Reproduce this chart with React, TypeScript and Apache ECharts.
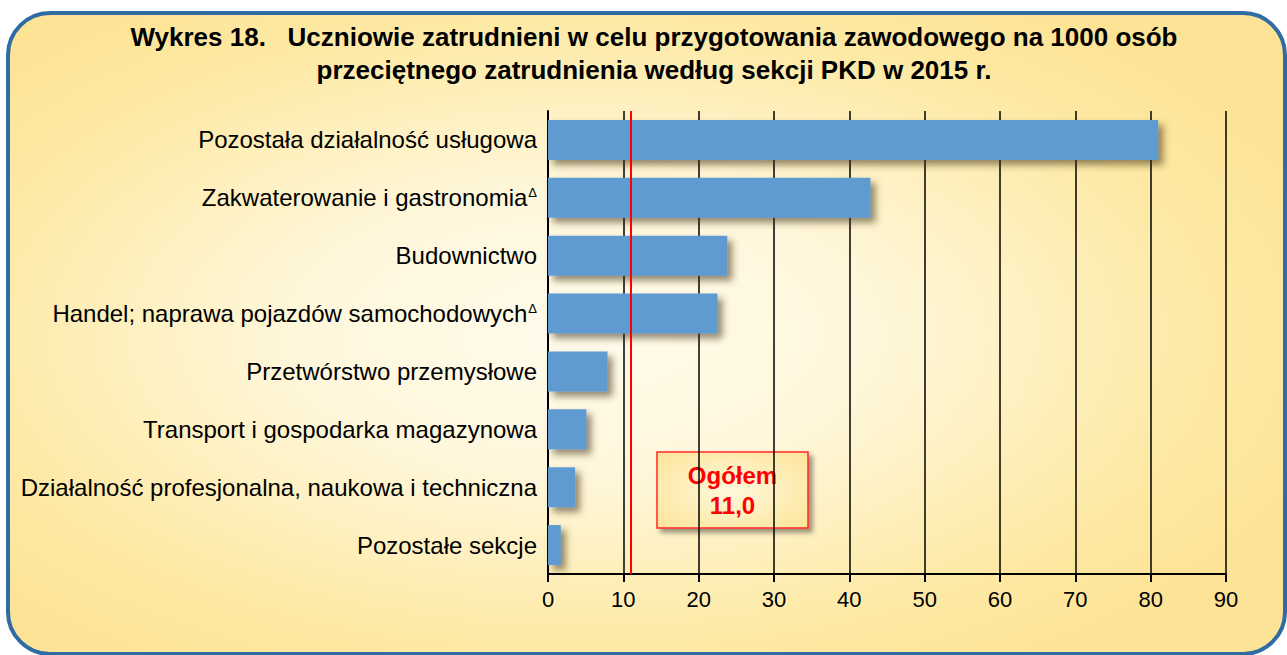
import React, { useEffect, useRef } from "react";
import * as echarts from "echarts";

const categories = [
  "Pozostała działalność usługowa",
  "Zakwaterowanie i gastronomia",
  "Budownictwo",
  "Handel; naprawa pojazdów samochodowych",
  "Przetwórstwo przemysłowe",
  "Transport i gospodarka magazynowa",
  "Działalność profesjonalna, naukowa i techniczna",
  "Pozostałe sekcje",
];
const marked = [false, true, false, true, false, false, false, false];
const values = [81.0, 42.8, 23.8, 22.5, 7.9, 5.1, 3.6, 1.7];
const totalValue = 11.0;
const totalLabel = "Ogółem";
const xTicks = { min: 0, max: 90, interval: 10 };
const titleLines = [
  "Wykres 18.\u00a0\u00a0\u00a0Uczniowie zatrudnieni w celu przygotowania zawodowego na 1000 osób",
  "przeciętnego zatrudnienia według sekcji PKD w 2015 r.",
];

const FONT = "'Liberation Sans', Arial, Helvetica, sans-serif";

export default function App() {
  const ref = useRef<HTMLDivElement>(null);
  useEffect(() => {
    document.body.style.margin = "0";
    const chart = echarts.init(ref.current!, null, { renderer: "svg" });
    chart.setOption({
      animation: false,
      textStyle: { fontFamily: FONT },
      graphic: [
        {
          type: "rect",
          z: -10,
          silent: true,
          shape: { x: 8, y: 13, width: 1277, height: 641, r: 42 },
          style: {
            fill: new echarts.graphic.RadialGradient(0.45, 0.5, 0.62, [
              { offset: 0, color: "#fffbec" },
              { offset: 0.35, color: "#fff7dc" },
              { offset: 0.8, color: "#fde9a3" },
              { offset: 1, color: "#fde396" },
            ]),
            stroke: "#2f6ca3",
            lineWidth: 4,
          },
        },
        {
          type: "text",
          silent: true,
          style: {
            text: titleLines.join("\n"),
            x: 654,
            y: 20,
            textAlign: "center",
            fill: "#000",
            font: `bold 26px ${FONT}`,
            lineHeight: 33,
          },
        },
        {
          type: "group",
          z: 50,
          children: [
            {
              type: "rect",
              shape: { x: 657, y: 452, width: 151, height: 76 },
              style: {
                fill: new echarts.graphic.RadialGradient(0.5, 0.5, 0.7, [
                  { offset: 0, color: "#fff8dc" },
                  { offset: 1, color: "#fde498" },
                ]),
                stroke: "#ff2a2a",
                lineWidth: 1.5,
                shadowBlur: 5,
                shadowOffsetX: 4,
                shadowOffsetY: 4,
                shadowColor: "rgba(0,0,0,0.4)",
              },
            },
            {
              type: "text",
              style: {
                text: `${totalLabel}\n${totalValue.toFixed(1).replace(".", ",")}`,
                x: 732.5,
                y: 460,
                textAlign: "center",
                fill: "#ff0000",
                font: `bold 24px ${FONT}`,
                lineHeight: 30,
              },
            },
          ],
        },
      ],
      grid: { left: 548, right: 61, top: 111, bottom: 81, containLabel: false },
      xAxis: {
        type: "value",
        min: xTicks.min,
        max: xTicks.max,
        interval: xTicks.interval,
        axisLine: { show: true, lineStyle: { color: "#000", width: 2 } },
        axisTick: { show: true, length: 8, inside: false, lineStyle: { color: "#000", width: 2 } },
        splitLine: { show: true, lineStyle: { color: "#000", width: 1.5 } },
        axisLabel: { color: "#000", fontSize: 22, margin: 14, fontFamily: FONT },
      },
      yAxis: {
        type: "category",
        inverse: true,
        data: categories,
        axisLine: { show: true, lineStyle: { color: "#000", width: 2 } },
        axisTick: { show: false },
        axisLabel: {
          color: "#000",
          fontSize: 24,
          margin: 11,
          fontFamily: FONT,
          formatter: (v: string, i: number) => (marked[i] ? `${v}{sup|Δ}` : v),
          rich: {
            sup: { fontSize: 13, verticalAlign: "top", color: "#000", fontFamily: FONT, padding: [0, 0, 8, 1] },
          },
        },
      },
      series: [
        {
          type: "bar",
          data: values,
          barWidth: 40,
          itemStyle: {
            color: "#5f9bd0",
            shadowBlur: 7,
            shadowOffsetX: 5,
            shadowOffsetY: 5,
            shadowColor: "rgba(60,50,20,0.55)",
          },
          markLine: {
            silent: true,
            symbol: "none",
            label: { show: false },
            lineStyle: { color: "#ff0000", width: 2, type: "solid" },
            data: [{ xAxis: totalValue }],
          },
        },
      ],
    });
    return () => chart.dispose();
  }, []);
  return <div ref={ref} style={{ width: 1287, height: 655 }} />;
}
